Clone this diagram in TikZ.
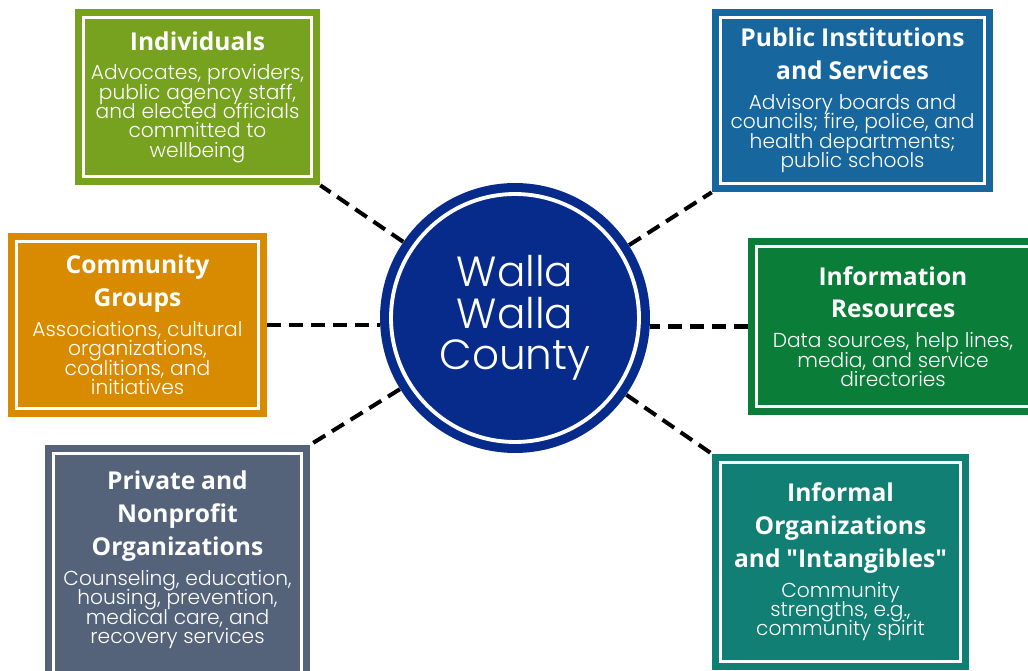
\documentclass[tikz,border=0pt]{standalone}
\usepackage{fontspec}
\setmainfont{Poppins}
\IfFontExistsTF{Poppins Light}
  {\newfontfamily\lightfont{Poppins Light}}
  {\newfontfamily\lightfont{Poppins}}
\newfontfamily\headfont{Open Sans}
\usetikzlibrary{positioning}

\definecolor{hubblue}{HTML}{072B8A}
\definecolor{indivgreen}{HTML}{76A21F}
\definecolor{pubblue}{HTML}{17679E}
\definecolor{commorange}{HTML}{D98B00}
\definecolor{infogreen}{HTML}{0A7D38}
\definecolor{privslate}{HTML}{54637A}
\definecolor{informalteal}{HTML}{117F74}

% title and description inside a box
\newcommand\heading[1]{{\headfont\bfseries\fontsize{14}{18.7}\selectfont #1\par}\vspace{6pt}}
\newcommand\details[1]{{\lightfont\fontsize{11.5}{11}\selectfont\lineskiplimit=-10pt #1\par}}

\tikzset{
  group/.style={rectangle, fill=#1, text=white, inner sep=0pt, align=center,
    path picture={\draw[white, line width=1.7pt]
      ([xshift=4.8pt,yshift=-4.8pt]path picture bounding box.north west) rectangle
      ([xshift=-4.8pt,yshift=4.8pt]path picture bounding box.south east);}},
  grouptext/.style={text=white, inner sep=0pt, align=center},
  hub/.style={circle, fill=hubblue, minimum size=5.4cm, inner sep=0pt, text=white,
    align=center, font=\lightfont\fontsize{24}{23.8}\selectfont,
    path picture={\draw[white, line width=2.2pt]
      (path picture bounding box.center) circle[radius=2.48cm];}},
  link/.style={black, line width=2.3pt, dash pattern=on 8pt off 4.5pt},
}

\begin{document}
\begin{tikzpicture}[x=0.02cm, y=-0.02cm]
\useasboundingbox (0,0) rectangle (1028,671);

\node[hub] (wwc) at (515,318) {Walla\\Walla\\County};

\node[group=indivgreen, minimum width=4.9cm, minimum height=3.52cm, text width=4.5cm]
  (indiv) at (197.5,97)
  {\heading{Individuals}\details{Advocates, providers,\\public agency staff,\\and elected officials\\committed to\\wellbeing}};

\node[group=pubblue, minimum width=5.62cm, minimum height=3.66cm, text width=5.2cm]
  (pub) at (852.5,100.5)
  {\heading{Public Institutions\\and Services}\details{Advisory boards and\\councils; fire, police, and\\health departments;\\public schools}};

\node[group=commorange, minimum width=5.18cm, minimum height=3.68cm, text width=4.8cm]
  (comm) at (137.5,325)
  {\heading{Community\\Groups}\details{Associations, cultural\\organizations,\\coalitions, and\\initiatives}};

\node[group=infogreen, minimum width=5.8cm, minimum height=3.54cm, text width=5.2cm]
  (info) at (893,326.5)
  {\heading{Information\\Resources}\details{Data sources, help lines,\\media, and service\\directories}};

\node[group=privslate, minimum width=5.3cm, minimum height=5.1cm] (privbox) at (177.5,572.5) {};
\node[grouptext, text width=4.8cm] (priv) at (177.5,560)
  {\heading{Private and\\Nonprofit\\Organizations}\details{Counseling, education,\\housing, prevention,\\medical care, and\\recovery services}};

\node[group=informalteal, minimum width=5.14cm, minimum height=4.32cm, text width=4.8cm]
  (informal) at (840.5,562)
  {\heading{Informal\\Organizations\\and "Intangibles"}\details{Community\\strengths, e.g.,\\community spirit}};

% dashed spokes from the county to each group
\draw[link] (wwc) -- (indiv.south east);
\draw[link] (wwc) -- (pub.south west);
\draw[link] (comm.east) -- (comm.east -| wwc.west);
\draw[link] (info.west) -- (info.west -| wwc.east);
\draw[link] (wwc) -- (privbox.north east);
\draw[link] (wwc) -- (informal.north west);
\end{tikzpicture}
\end{document}
